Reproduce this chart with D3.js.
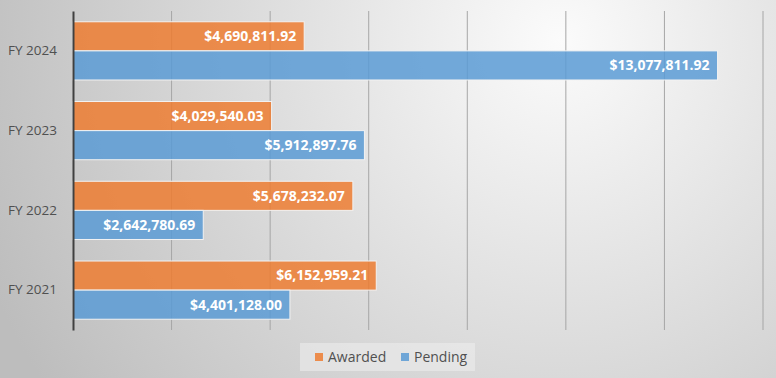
<!DOCTYPE html>
<html>
<head>
<meta charset="utf-8">
<script src="https://cdn.jsdelivr.net/npm/d3@7"></script>
<style>
  body { margin: 0; }
  svg { display: block; }
</style>
</head>
<body>
<div id="chart"></div>
<script>
// Data
const years = ["FY 2024", "FY 2023", "FY 2022", "FY 2021"];
const seriesNames = ["Awarded", "Pending"];
const awarded = [4690811.92, 4029540.03, 5678232.07, 6152959.21];
const pending = [13077811.92, 5912897.76, 2642780.69, 4401128.00];
const xTicks = [0, 2e6, 4e6, 6e6, 8e6, 10e6, 12e6, 14e6];

const colors = { Awarded: "#ED7D31", Pending: "#5B9BD5" };

const width = 776;
const height = 378;
const margin = { top: 11, right: 13, bottom: 48, left: 73 };

const svg = d3.select("#chart")
    .append("svg")
    .attr("width", width)
    .attr("height", height);

// Background gradient
const defs = svg.append("defs");
const grad = defs.append("radialGradient")
    .attr("id", "bg")
    .attr("gradientUnits", "userSpaceOnUse")
    .attr("cx", 560).attr("cy", 40).attr("r", 620);
grad.append("stop").attr("offset", "0%").attr("stop-color", "#fbfbfb");
grad.append("stop").attr("offset", "100%").attr("stop-color", "#bdbdbd");

svg.append("rect")
    .attr("width", width)
    .attr("height", height)
    .attr("fill", "url(#bg)");

// Scales
const x = d3.scaleLinear()
    .domain([0, 14e6])
    .range([margin.left, width - margin.right]);

const y = d3.scaleBand()
    .domain(years)
    .range([margin.top, height - margin.bottom])
    .paddingInner(0.27)
    .paddingOuter(0.135);

const ySub = d3.scaleBand()
    .domain(seriesNames)
    .range([0, y.bandwidth()]);

// Gridlines
svg.append("g")
    .selectAll("line")
    .data(xTicks.slice(1))
    .join("line")
    .attr("x1", (d) => x(d))
    .attr("x2", (d) => x(d))
    .attr("y1", margin.top)
    .attr("y2", height - margin.bottom)
    .attr("stroke", "#a6a6a6")
    .attr("stroke-width", 1);

// Build rows
const rows = years.map((yr, i) => ({
    year: yr,
    values: [
        { key: "Awarded", value: awarded[i] },
        { key: "Pending", value: pending[i] },
    ],
}));

const fmt = d3.format("$,.2f");

const groups = svg.append("g")
    .selectAll("g")
    .data(rows)
    .join("g")
    .attr("transform", (d) => `translate(0, ${y(d.year)})`);

groups.selectAll("rect")
    .data((d) => d.values)
    .join("rect")
    .attr("x", x(0))
    .attr("y", (d) => ySub(d.key))
    .attr("width", (d) => x(d.value) - x(0))
    .attr("height", ySub.bandwidth())
    .attr("fill", (d) => colors[d.key])
    .attr("fill-opacity", 0.85)
    .attr("stroke", "#f2f2f2")
    .attr("stroke-width", 1);

groups.selectAll("text")
    .data((d) => d.values)
    .join("text")
    .attr("x", (d) => x(d.value) - 8)
    .attr("y", (d) => ySub(d.key) + ySub.bandwidth() / 2)
    .attr("dy", "0.35em")
    .attr("text-anchor", "end")
    .attr("fill", "#ffffff")
    .style("font-family", "'Open Sans', sans-serif")
    .style("font-weight", "bold")
    .style("font-size", "14px")
    .text((d) => fmt(d.value));

// Category axis
const yAxis = svg.append("g")
    .attr("transform", `translate(${margin.left}, 0)`)
    .call(d3.axisLeft(y).tickSize(0).tickPadding(16));
yAxis.select(".domain")
    .attr("stroke", "#404040")
    .attr("stroke-width", 2);
yAxis.selectAll("text")
    .attr("fill", "#505050")
    .style("font-family", "'Open Sans', sans-serif")
    .style("font-size", "13.5px");

// Legend
const legend = svg.append("g").attr("transform", "translate(300, 343)");
legend.append("rect")
    .attr("width", 175)
    .attr("height", 28)
    .attr("fill", "#ececec")
    .attr("fill-opacity", 0.6);

const items = legend.selectAll("g")
    .data(seriesNames)
    .join("g")
    .attr("transform", (d, i) => `translate(${15 + i * 86}, 14)`);
items.append("rect")
    .attr("x", 0)
    .attr("y", -4)
    .attr("width", 8)
    .attr("height", 8)
    .attr("fill", (d) => colors[d])
    .attr("fill-opacity", 0.85);
items.append("text")
    .attr("x", 13)
    .attr("dy", "0.35em")
    .attr("fill", "#505050")
    .style("font-family", "'Open Sans', sans-serif")
    .style("font-size", "14px")
    .text((d) => d);
</script>
</body>
</html>
